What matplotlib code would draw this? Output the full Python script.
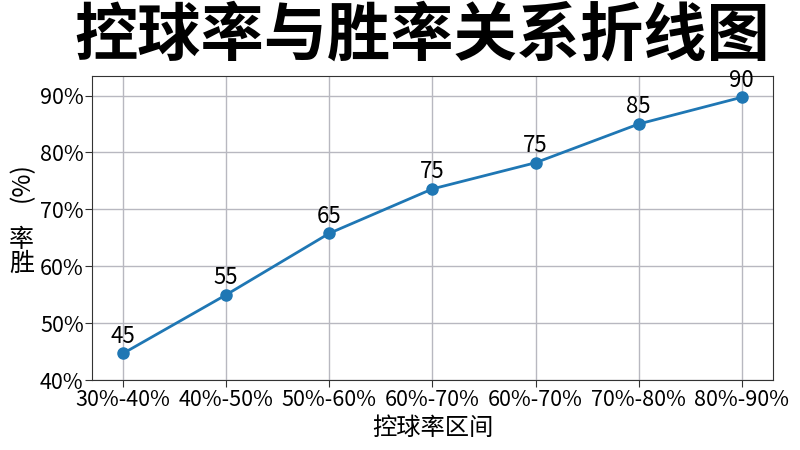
import matplotlib
matplotlib.use('Agg')
import matplotlib.pyplot as plt

plt.rcParams['font.family'] = ['Noto Sans CJK SC', 'DejaVu Sans']

# 数据
ranges = ['30%-40%', '40%-50%', '50%-60%', '60%-70%', '60%-70%', '70%-80%', '80%-90%']
win_rate = [44.7, 55.0, 65.8, 73.6, 78.2, 85.0, 89.7]
point_labels = ['45', '55', '65', '75', '75', '85', '90']
y_ticks = [40, 50, 60, 70, 80, 90]

fig = plt.figure(figsize=(8, 4.5), dpi=100)
ax = fig.add_axes([0.115, 0.155, 0.851, 0.677])

x = list(range(len(ranges)))
ax.plot(x, win_rate, color='#1f77b4', linewidth=2, marker='o', markersize=8)

for xi, yi, lab in zip(x, win_rate, point_labels):
    ax.annotate(lab, (xi, yi), xytext=(0, 4), textcoords='offset points',
                ha='center', va='bottom', fontsize=16)

ax.set_xticks(x)
ax.set_xticklabels(ranges, fontsize=15.5)
ax.set_yticks(y_ticks)
ax.set_yticklabels([f'{t}%' for t in y_ticks], fontsize=15.5)
ax.set_xlim(-0.3, 6.3)
ax.set_ylim(40, 93.5)
ax.tick_params(length=5, pad=1, color='#333333')
ax.grid(True, color='#b8b8c0', linewidth=1)
for s in ax.spines.values():
    s.set_color('#333333')

ax.set_xlabel('控球率区间', fontsize=17.5, labelpad=3)

# 纵轴标签：汉字直立，括号旋转
fig.text(0.027, 0.44, '率\n胜', fontsize=18, ha='center', va='center', linespacing=0.9)
fig.text(0.027, 0.595, '(%)', fontsize=18, ha='center', va='center', rotation=90)

fig.text(0.528, 0.92, '控球率与胜率关系折线图', fontsize=45.5, fontweight='black',
         ha='center', va='center')

fig.savefig('out.png', dpi=100)
